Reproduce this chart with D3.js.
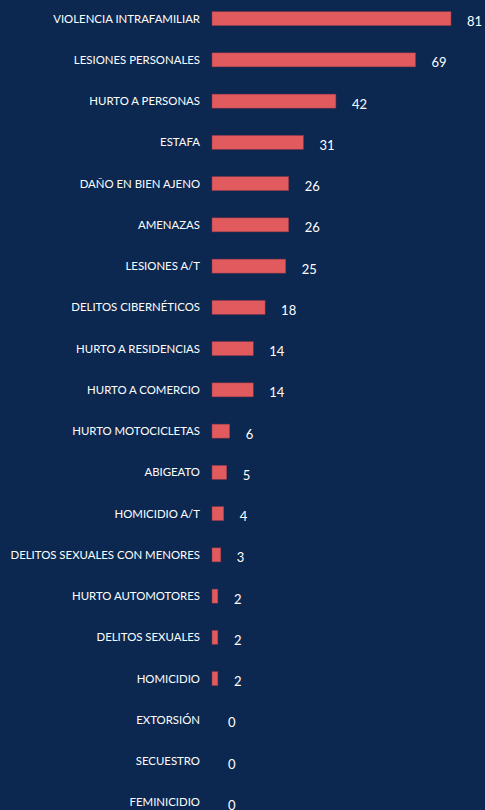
<!DOCTYPE html>
<html>
<head>
<meta charset="utf-8">
<script src="https://cdn.jsdelivr.net/npm/d3@7"></script>
<style>
  html, body { margin: 0; padding: 0; background: #0c2850; }
</style>
</head>
<body>
<div id="chart"></div>
<script>
// data
const categories = ["VIOLENCIA INTRAFAMILIAR", "LESIONES PERSONALES", "HURTO A PERSONAS", "ESTAFA",
  "DAÑO EN BIEN AJENO", "AMENAZAS", "LESIONES A/T", "DELITOS CIBERNÉTICOS", "HURTO A RESIDENCIAS",
  "HURTO A COMERCIO", "HURTO MOTOCICLETAS", "ABIGEATO", "HOMICIDIO A/T", "DELITOS SEXUALES CON MENORES",
  "HURTO AUTOMOTORES", "DELITOS SEXUALES", "HOMICIDIO", "EXTORSIÓN", "SECUESTRO", "FEMINICIDIO"];
const values = [81, 69, 42, 31, 26, 26, 25, 18, 14, 14, 6, 5, 4, 3, 2, 2, 2, 0, 0, 0];

// dimensions
const width = 485, height = 810;
const left = 212;

const svg = d3.select("#chart")
  .append("svg")
    .attr("width", width)
    .attr("height", height)
    .style("display", "block");

svg.append("rect")
  .attr("width", width).attr("height", height)
  .attr("fill", "#0c2850");

// scales
const x = d3.scaleLinear()
  .domain([0, 81])
  .range([left, 451]);

const y = d3.scaleBand()
  .domain(categories)
  .range([-2, 823])
  .paddingInner(0.66)
  .paddingOuter(0.33);

const rows = svg.selectAll("g.row")
  .data(categories.map((c, i) => ({ name: c, value: values[i] })))
  .join("g")
    .attr("class", "row");

// bars
rows.append("rect")
  .attr("x", x(0))
  .attr("y", d => y(d.name))
  .attr("width", d => x(d.value) - x(0))
  .attr("height", y.bandwidth())
  .attr("fill", "#e05a5e")
  .attr("stroke", "#8a3448")
  .attr("stroke-width", 0.5);

// category labels
rows.append("text")
  .attr("x", 200)
  .attr("y", d => y(d.name) + y.bandwidth() / 2)
  .attr("dy", "0.35em")
  .attr("text-anchor", "end")
  .attr("fill", "#ffffff")
  .style("font-family", "Lato, 'Open Sans', sans-serif")
  .style("font-size", "11.4px")
  .text(d => d.name);

// value labels
rows.append("text")
  .attr("x", d => x(d.value) + 16)
  .attr("y", d => y(d.name) + y.bandwidth() / 2 + 3)
  .attr("dy", "0.35em")
  .attr("fill", "#ffffff")
  .style("font-family", "Lato, 'Open Sans', sans-serif")
  .style("font-size", "13px")
  .text(d => d.value);
</script>
</body>
</html>
